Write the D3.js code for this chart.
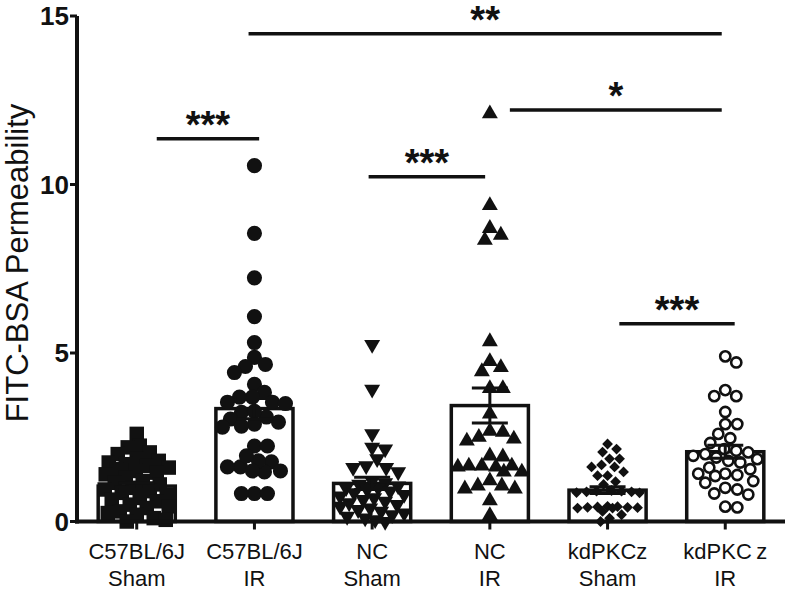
<!DOCTYPE html>
<html>
<head>
<meta charset="utf-8">
<script src="https://cdn.jsdelivr.net/npm/d3@7"></script>
<style>
  body { margin: 0; background: #fff; }
  text { font-family: "Liberation Sans", Arial, sans-serif; }
</style>
</head>
<body>
<script>
// group labels (two lines under each bar)
const labelTop = ["C57BL/6J", "C57BL/6J", "NC", "NC", "kdPKCz", "kdPKC\u2009z"];
const labelBottom = ["Sham", "IR", "Sham", "IR", "Sham", "IR"];

// bar heights (mean) and error bars (SEM)
const means = [1.05, 3.35, 1.13, 3.44, 0.93, 2.07];
const sems = [0.10, 0.30, 0.18, 0.52, 0.10, 0.19];

// individual values per group
const c57Sham = [2.6, 2.25, 2.2, 2.05, 2.0, 1.85, 1.8, 1.75, 1.7, 1.65, 1.6, 1.55, 1.5, 1.45, 1.4, 1.3,
  1.2, 1.15, 1.1, 1.0, 0.95, 0.9, 0.85, 0.8, 0.7, 0.65, 0.6, 0.5, 0.45, 0.4, 0.3, 0.25, 0.2, 0.1, 0.05, 0.0];
const c57IR = [10.56, 8.55, 7.23, 6.08, 5.31, 4.87, 4.66, 4.6, 4.42, 4.07, 3.83, 3.69, 3.69, 3.54,
  3.54, 3.24, 3.04, 2.89, 2.8, 2.83, 2.95, 3.1, 3.27, 3.5,
  2.24, 2.24, 1.77, 1.62, 1.5, 1.47, 1.62, 1.8, 1.95, 1.5, 0.83, 0.83, 0.83];
const ncSham = [5.25, 3.92, 2.6, 2.2, 2.15, 1.86, 1.65, 1.6, 1.6, 1.47,
  1.2, 1.15, 1.1, 1.05, 1.0, 1.0, 0.95, 0.9, 0.85, 0.8, 0.75, 0.7, 0.65, 0.6, 0.55, 0.5,
  0.45, 0.4, 0.35, 0.3, 0.25, 0.2, 0.15, 0.1, 0.05, 0.0];
const ncIR = [12.1, 9.38, 8.7, 8.5, 8.35, 5.34, 4.75, 4.57, 4.45, 3.95, 3.95,
  3.19, 2.68, 2.65, 2.5, 2.45, 2.39, 1.95, 1.92, 1.65, 1.65, 1.65, 1.62, 1.62, 1.47, 1.47,
  1.21, 1.06, 1.06, 0.97, 0.97, 0.62, 0.18];
const kdSham = [2.3, 2.15, 2.06, 1.86, 1.86, 1.68, 1.62, 1.62, 1.47, 1.36, 1.36, 1.18, 1.1,
  0.92, 0.9, 0.9, 0.88, 0.88, 0.86, 0.85,
  0.45, 0.44, 0.43, 0.42, 0.42, 0.41, 0.4, 0.4, 0.3, 0.2, 0.1, 0.0];
const kdIR = [4.9, 4.72, 3.9, 3.72, 3.72, 3.25, 2.89, 2.89, 2.6, 2.47, 2.33, 2.15, 2.1, 2.05, 2.0,
  1.95, 1.9, 1.85, 1.8, 1.75, 1.6, 1.55, 1.42, 1.42, 1.38, 1.35, 1.2, 1.15, 1.0, 0.95, 0.83, 0.8, 0.44, 0.42];
const groupValues = [c57Sham, c57IR, ncSham, ncIR, kdSham, kdIR];

const yTicks = [0, 5, 10, 15];

// significance bars: label, height (data units), start / end in group units
const sigLabels = ["**", "*", "***", "***", "***"];
const sigLevels = [14.47, 12.21, 11.36, 10.23, 5.87];
const sigStart = [0.95, 3.17, 0.17, 1.97, 4.1];
const sigEnd = [4.97, 4.97, 1.04, 2.96, 5.08];

const W = 791, H = 596;
const svg = d3.select("body").append("svg").attr("width", W).attr("height", H);

const x = d3.scaleBand().domain(d3.range(6)).range([77, 785])
  .paddingInner(0.345).paddingOuter(0.18);
const y = d3.scaleLinear().domain([0, 15]).range([521.5, 16]);
const cx = i => x(i) + x.bandwidth() / 2;
const gx = d3.scaleLinear().domain([0, 1]).range([cx(0), cx(1)]);

// bars
svg.selectAll("rect.bar").data(means).enter().append("rect")
  .attr("x", (d, i) => x(i)).attr("width", x.bandwidth())
  .attr("y", d => y(d)).attr("height", d => y(0) - y(d))
  .attr("fill", "#fff").attr("stroke", "#111").attr("stroke-width", 3.5);

// simple beeswarm so points with close values sit side by side
function swarm(vals, sep, maxOff) {
  const placed = [];
  const out = new Array(vals.length);
  const order = d3.range(vals.length).sort((a, b) => vals[b] - vals[a]);
  order.forEach(i => {
    const py = y(vals[i]);
    let best = 0, bestD = -1;
    for (let k = 0; k <= maxOff * 2; k++) {
      const dx = (k % 2 ? 1 : -1) * Math.ceil(k / 2);
      let md = Infinity;
      placed.forEach(p => { md = Math.min(md, Math.hypot(p[0] - dx, p[1] - py)); });
      if (md >= sep) { best = dx; bestD = md; break; }
      if (md > bestD) { bestD = md; best = dx; }
    }
    placed.push([best, py]);
    out[i] = best;
  });
  return out;
}

const marks = [
  { type: d3.symbolSquare, size: 210, fill: "#111", stroke: "none", rot: 0, sep: 12 },
  { type: d3.symbolCircle, size: 180, fill: "#111", stroke: "none", rot: 0, sep: 12.5 },
  { type: d3.symbolTriangle, size: 110, fill: "#111", stroke: "none", rot: 180, sep: 12.5 },
  { type: d3.symbolTriangle, size: 110, fill: "#111", stroke: "none", rot: 0, sep: 12.5 },
  { type: d3.symbolSquare, size: 58, fill: "#111", stroke: "none", rot: 45, sep: 9.5 },
  { type: d3.symbolCircle, size: 82, fill: "#fff", stroke: "#111", rot: 0, sep: 12 }
];

groupValues.forEach((vals, g) => {
  const m = marks[g];
  const offs = swarm(vals, m.sep, 32);
  svg.append("g").selectAll("path").data(vals).enter().append("path")
    .attr("d", d3.symbol().type(m.type).size(m.size))
    .attr("transform", (d, i) => `translate(${cx(g) + offs[i]},${y(d)}) rotate(${m.rot})`)
    .attr("fill", m.fill).attr("stroke", m.stroke).attr("stroke-width", 2.6);
});

// error bars
const eb = svg.append("g").attr("stroke", "#111").attr("stroke-width", 3);
means.forEach((m, i) => {
  const c = cx(i), lo = y(m - sems[i]), hi = y(m + sems[i]);
  eb.append("line").attr("x1", c).attr("x2", c).attr("y1", lo).attr("y2", hi);
  eb.append("line").attr("x1", c - 18).attr("x2", c + 18).attr("y1", hi).attr("y2", hi);
  eb.append("line").attr("x1", c - 18).attr("x2", c + 18).attr("y1", lo).attr("y2", lo);
});

// axes
svg.append("line").attr("x1", 77).attr("x2", 77).attr("y1", y(0) + 2).attr("y2", y(15))
  .attr("stroke", "#111").attr("stroke-width", 4);
svg.append("line").attr("x1", 75).attr("x2", 785).attr("y1", y(0)).attr("y2", y(0))
  .attr("stroke", "#111").attr("stroke-width", 4);

svg.selectAll("line.yt").data(yTicks).enter().append("line")
  .attr("x1", 70).attr("x2", 77).attr("y1", d => y(d)).attr("y2", d => y(d))
  .attr("stroke", "#111").attr("stroke-width", 3);
svg.selectAll("text.yt").data(yTicks).enter().append("text")
  .attr("x", 69).attr("y", d => y(d)).attr("dy", "0.36em").attr("text-anchor", "end")
  .attr("font-size", 26).attr("font-weight", "bold").attr("fill", "#111").text(d => d);

svg.selectAll("line.xt").data(means).enter().append("line")
  .attr("x1", (d, i) => cx(i)).attr("x2", (d, i) => cx(i))
  .attr("y1", y(0)).attr("y2", y(0) + 8)
  .attr("stroke", "#111").attr("stroke-width", 3);

svg.selectAll("text.l1").data(labelTop).enter().append("text")
  .attr("x", (d, i) => cx(i)).attr("y", 559).attr("text-anchor", "middle")
  .attr("font-size", 22).attr("fill", "#111").text(d => d);
svg.selectAll("text.l2").data(labelBottom).enter().append("text")
  .attr("x", (d, i) => cx(i)).attr("y", 586).attr("text-anchor", "middle")
  .attr("font-size", 22).attr("fill", "#111").text(d => d);

svg.append("text").attr("transform", "translate(28,263) rotate(-90)")
  .attr("text-anchor", "middle").attr("font-size", 31).attr("fill", "#111")
  .text("FITC-BSA Permeability");

// significance annotations
sigLabels.forEach((lab, i) => {
  const x1 = gx(sigStart[i]), x2 = gx(sigEnd[i]), ly = y(sigLevels[i]);
  svg.append("line").attr("x1", x1).attr("x2", x2).attr("y1", ly).attr("y2", ly)
    .attr("stroke", "#111").attr("stroke-width", 3.5);
  svg.append("text").attr("x", (x1 + x2) / 2).attr("y", ly - 1).attr("text-anchor", "middle")
    .attr("font-size", 38).attr("font-weight", "bold").attr("fill", "#111").text(lab);
});
</script>
</body>
</html>
